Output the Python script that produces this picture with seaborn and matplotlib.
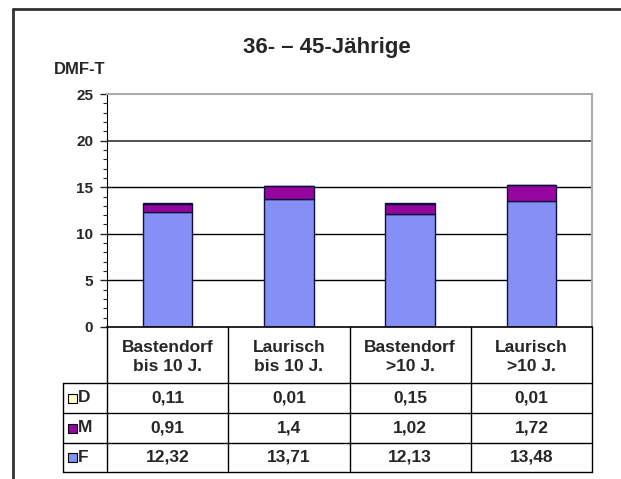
import matplotlib
matplotlib.use('Agg')
import matplotlib.pyplot as plt
import seaborn as sns
import pandas as pd
from matplotlib.lines import Line2D
from matplotlib.patches import Rectangle
from matplotlib.transforms import blended_transform_factory
from matplotlib.ticker import MultipleLocator

# data
groups = ['Bastendorf\nbis 10 J.', 'Laurisch\nbis 10 J.', 'Bastendorf\n>10 J.', 'Laurisch\n>10 J.']
D_vals = [0.11, 0.01, 0.15, 0.01]
M_vals = [0.91, 1.4, 1.02, 1.72]
F_vals = [12.32, 13.71, 12.13, 13.48]
series = ['D', 'M', 'F']
colors = {'D': '#ffffcc', 'M': '#96069e', 'F': '#8490f6'}

df = pd.DataFrame({'group': groups, 'D': D_vals, 'M': M_vals, 'F': F_vals})
df['FM'] = df.F + df.M

sns.set_style('white')
plt.rcParams['font.family'] = ['Liberation Sans', 'DejaVu Sans']
plt.rcParams['font.weight'] = 'bold'

W, H = 621, 479
fig = plt.figure(figsize=(W / 100, H / 100), dpi=100)

def fx(px):
    return px / W

def fy(py):
    return 1 - py / H

ax = fig.add_axes([fx(107), fy(327), fx(592) - fx(107), fy(94) - fy(327)])

# stacked bars, F at bottom
sns.barplot(data=df, x='group', y='F', color=colors['F'], width=0.41,
            edgecolor='#101040', linewidth=1, ax=ax, saturation=1)
sns.barplot(data=df, x='group', y='M', bottom=df.F, color=colors['M'], width=0.41,
            edgecolor='#101040', linewidth=1, ax=ax, saturation=1)
sns.barplot(data=df, x='group', y='D', bottom=df.FM, color=colors['D'], width=0.41,
            edgecolor='#101040', linewidth=1, ax=ax, saturation=1)

ax.set_ylim(0, 25)
ax.set_xlim(-0.5, 3.5)
ax.yaxis.set_major_locator(MultipleLocator(5))
ax.yaxis.set_minor_locator(MultipleLocator(1))
for y in [5, 10, 15]:
    ax.axhline(y, color='black', lw=1, zorder=0)
ax.axhline(20, color='#444444', lw=1.3, zorder=0)
ax.set_xticks([])
ax.set_xlabel('')
ax.set_ylabel('')
ax.tick_params(axis='y', which='major', direction='out', length=5, width=1,
               labelsize=11, pad=5, left=True)
ax.tick_params(axis='y', which='minor', direction='out', length=3, width=0.8, left=True)
for t in ax.get_yticklabels():
    t.set_fontweight('bold')
for s in ['top', 'right']:
    ax.spines[s].set_color('#aaaaaa')
    ax.spines[s].set_linewidth(1.5)
ax.spines['left'].set_color('black')
ax.spines['bottom'].set_color('black')
ax.spines['bottom'].set_linewidth(1.2)

# title and y label
fig.text(fx(327), fy(47), '36- \u2013 45-J\u00e4hrige', ha='center', va='center',
         fontsize=16, fontweight='bold')
fig.text(fx(54), fy(70), 'DMF-T', ha='left', va='center', fontsize=12, fontweight='bold')

# outer frame
fig.add_artist(Line2D([fx(13), fx(13)], [fy(9), 0], color='#333333', lw=2))
fig.add_artist(Line2D([fx(13), 1], [fy(9), fy(9)], color='#333333', lw=2))

# data table below the axis
tr = blended_transform_factory(ax.transData, fig.transFigure)
rows_y = [383, 413, 443, 472]
for i in range(5):
    fig.add_artist(Line2D([i - 0.5, i - 0.5], [fy(327), fy(472)], color='black',
                          lw=1, transform=tr))
fig.add_artist(Line2D([fx(63), fx(63)], [fy(383), fy(472)], color='black', lw=1))
for ry in rows_y:
    fig.add_artist(Line2D([fx(63), fx(592)], [fy(ry), fy(ry)], color='black', lw=1))

for i, g in enumerate(groups):
    fig.text(i, fy(357), g, transform=tr, ha='center', va='center', fontsize=12.5,
             fontweight='bold', linespacing=1.35)

table_vals = {'D': D_vals, 'M': M_vals, 'F': F_vals}
for k, s in enumerate(series):
    cy = (rows_y[k] + rows_y[k + 1]) / 2
    fig.add_artist(Rectangle((fx(68), fy(cy + 4.5)), fx(9), fy(0) - fy(9),
                             facecolor=colors[s], edgecolor='black', lw=0.8))
    fig.text(fx(78), fy(cy), s, ha='left', va='center', fontsize=12.5, fontweight='bold')
    for i, v in enumerate(table_vals[s]):
        fig.text(i, fy(cy), f'{v:g}'.replace('.', ','), transform=tr, ha='center',
                 va='center', fontsize=12.5, fontweight='bold')

fig.savefig('out.png', dpi=100)
